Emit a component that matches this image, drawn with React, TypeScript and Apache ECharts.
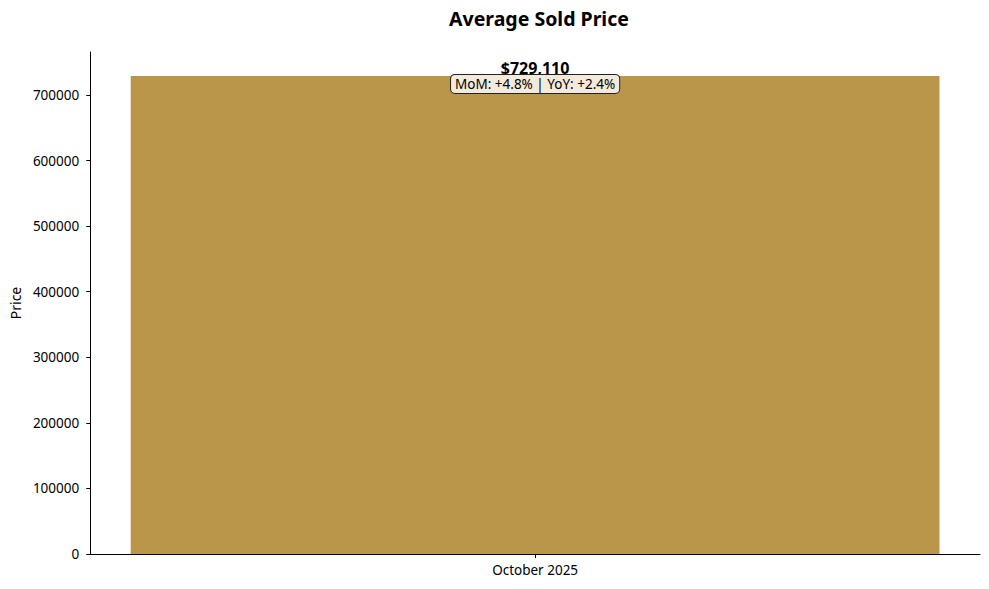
import React, { useEffect, useRef } from "react";
import * as echarts from "echarts";

const categories = ["October 2025"];
const values = [729110];
const momChanges = ["+4.8%"];
const yoyChanges = ["+2.4%"];
const yTicks = [0, 100000, 200000, 300000, 400000, 500000, 600000, 700000];

const FONT = "'Noto Sans', 'DejaVu Sans', sans-serif";

export default function App() {
  const ref = useRef<HTMLDivElement>(null);
  useEffect(() => {
    if (!ref.current) return;
    const chart = echarts.init(ref.current, null, { renderer: "svg" });
    const yMax = Math.max(...values) * 1.05;
    chart.setOption({
      animation: false,
      backgroundColor: "#ffffff",
      textStyle: { fontFamily: FONT },
      title: {
        text: "Average Sold Price",
        left: "534",
        textAlign: "center",
        top: 3,
        textStyle: { fontFamily: FONT, fontSize: 19.5, fontWeight: "bold", color: "#000" },
      },
      grid: { left: 88, right: 9, top: 52, bottom: 35, containLabel: false },
      xAxis: {
        type: "category",
        data: categories,
        boundaryGap: true,
        axisLine: { show: true, lineStyle: { color: "#000", width: 1 } },
        axisTick: { show: true, alignWithLabel: true, length: 4, lineStyle: { color: "#000" } },
        axisLabel: { color: "#000", fontSize: 13.5, fontFamily: FONT, margin: 9 },
        splitLine: { show: false },
      },
      yAxis: {
        type: "value",
        min: 0,
        max: yMax,
        interval: 100000,
        name: "Price",
        nameLocation: "middle",
        nameGap: 67,
        nameTextStyle: { color: "#000", fontSize: 14, fontFamily: FONT },
        axisLine: { show: true, lineStyle: { color: "#000", width: 1 } },
        axisTick: { show: true, length: 4, lineStyle: { color: "#000" }, customValues: yTicks },
        axisLabel: {
          color: "#000",
          fontSize: 13.5,
          fontFamily: FONT,
          margin: 11,
          customValues: yTicks,
          formatter: (v: number) => String(v),
        },
        splitLine: { show: false },
      },
      series: [
        {
          type: "bar",
          data: values,
          barWidth: "90.9%",
          itemStyle: { color: "#b9964a" },
          label: {
            show: true,
            position: "top",
            distance: 0,
            offset: [0, 16],
            formatter: (p: any) =>
              "{v|$" + Number(p.value).toLocaleString("en-US") + "}\n{b|MoM: " +
              momChanges[p.dataIndex] + " | YoY: " + yoyChanges[p.dataIndex] + "}",
            rich: {
              v: { fontSize: 16, fontWeight: "bold", color: "#000", lineHeight: 16, fontFamily: FONT, align: "center" },
              b: {
                fontSize: 13.5,
                color: "#000",
                lineHeight: 16,
                fontFamily: FONT,
                backgroundColor: "#f3eadb",
                borderColor: "#222",
                borderWidth: 1,
                borderRadius: 4,
                padding: [2, 4, 2, 4],
                align: "center",
              },
            },
          },
        },
      ],
    });
    return () => chart.dispose();
  }, []);
  return <div ref={ref} style={{ position: "absolute", left: 0, top: 0, width: 989, height: 589 }} />;
}
